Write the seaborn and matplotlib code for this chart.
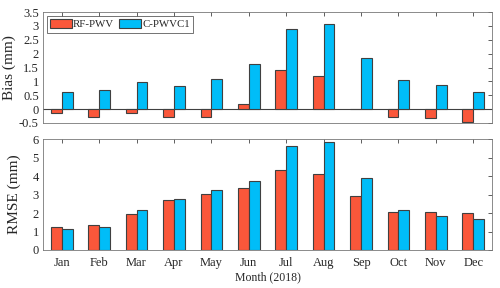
import pandas as pd
import matplotlib
matplotlib.use("Agg")
import matplotlib.pyplot as plt
import seaborn as sns

# data
months = ["Jan", "Feb", "Mar", "Apr", "May", "Jun", "Jul", "Aug", "Sep", "Oct", "Nov", "Dec"]
bias_rf = [-0.13, -0.27, -0.15, -0.27, -0.27, 0.2, 1.4, 1.19, 0.0, -0.27, -0.33, -0.45]
bias_c = [0.62, 0.7, 0.97, 0.84, 1.09, 1.62, 2.88, 3.06, 1.83, 1.05, 0.86, 0.62]
rmse_rf = [1.27, 1.36, 1.95, 2.71, 3.02, 3.33, 4.32, 4.12, 2.93, 2.08, 2.04, 1.99]
rmse_c = [1.16, 1.27, 2.19, 2.77, 3.25, 3.74, 5.64, 5.86, 3.89, 2.17, 1.84, 1.66]
series = ["RF-PWV", "C-PWVC1"]

sns.set_style("white")
plt.rcParams['font.family'] = ['Liberation Serif', 'DejaVu Serif']

def long_form(rf, c):
    return pd.DataFrame({
        "month": months * 2,
        "value": rf + c,
        "series": [series[0]] * len(months) + [series[1]] * len(months),
    })

palette = {"RF-PWV": "#FA573A", "C-PWVC1": "#00BDF8"}

fig = plt.figure(figsize=(5, 2.88), dpi=100)
ax1 = fig.add_axes([0.086, 0.573, 0.898, 0.385])
ax2 = fig.add_axes([0.086, 0.132, 0.898, 0.385])

for ax, df in [(ax1, long_form(bias_rf, bias_c)), (ax2, long_form(rmse_rf, rmse_c))]:
    sns.barplot(data=df, x="month", y="value", hue="series", palette=palette,
                width=0.58, gap=0, edgecolor="#404040", linewidth=0.8,
                saturation=1, ax=ax, legend=(ax is ax1))
    ax.set_xlim(-0.5, 11.5)
    ax.tick_params(direction="in", top=True, right=True, length=3,
                   labelsize=9, width=0.6, color="#444444", pad=3)
    ax.tick_params(axis="x", pad=5)
    for s in ax.spines.values():
        s.set_linewidth(0.6)
        s.set_color("#777777")

ax1.set_ylim(-0.5, 3.5)
ax1.set_yticks([-0.5, 0, 0.5, 1, 1.5, 2, 2.5, 3, 3.5])
ax1.set_yticklabels(["-0.5", "0", "0.5", "1", "1.5", "2", "2.5", "3", "3.5"])
ax1.set_xticklabels([])
ax1.set_xlabel("")
ax1.set_ylabel("Bias (mm)", fontsize=11, labelpad=2)
ax1.axhline(0, color="#404040", linewidth=0.8, zorder=0)

ax2.set_ylim(0, 6)
ax2.set_yticks(range(0, 7))
ax2.set_xlabel("Month (2018)", fontsize=8.5, labelpad=2)
ax2.set_ylabel("RMSE (mm)", fontsize=11, labelpad=8)

leg = ax1.legend(loc="upper left", ncol=2, fontsize=7.8, frameon=True, fancybox=False,
                 edgecolor="#333333", handlelength=2.0, handleheight=0.9,
                 columnspacing=0.5, handletextpad=0.1, borderpad=0.3,
                 borderaxespad=0.35)
leg.get_frame().set_linewidth(0.6)

fig.savefig("out.png", dpi=100)
